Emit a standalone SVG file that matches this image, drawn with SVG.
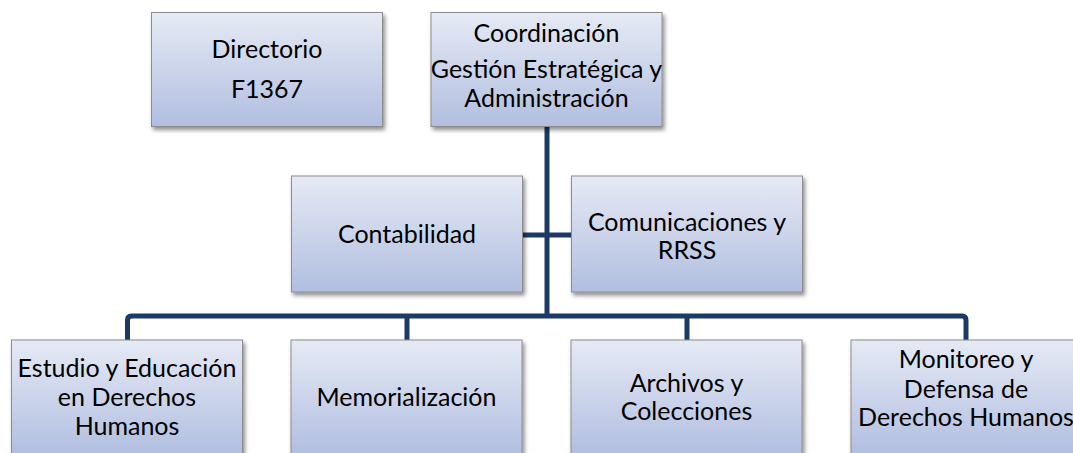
<svg xmlns="http://www.w3.org/2000/svg" width="1073" height="453" viewBox="0 0 1073 453">
<defs>
<linearGradient id="g" x1="0" y1="0" x2="0" y2="1">
<stop offset="0" stop-color="#E6EAF5"/>
<stop offset="1" stop-color="#B1BEE0"/>
</linearGradient>
<linearGradient id="gb" gradientUnits="userSpaceOnUse" x1="0" y1="340" x2="0" y2="455">
<stop offset="0" stop-color="#E6EAF5"/>
<stop offset="1" stop-color="#B1BEE0"/>
</linearGradient>
<filter id="sh" x="-10%" y="-10%" width="125%" height="130%">
<feDropShadow dx="2" dy="3" stdDeviation="2" flood-color="#000" flood-opacity="0.45"/>
</filter>
<style>
.box{fill:url(#g);stroke:#8C8C8C;stroke-width:1;filter:url(#sh)}
.boxb{fill:url(#gb);stroke:#8C8C8C;stroke-width:1;filter:url(#sh)}
.t{font-family:Lato,"Open Sans","Liberation Sans",sans-serif;font-size:25px;fill:#000;text-anchor:middle}
.c{fill:none;stroke:#1B3A66;stroke-width:5;stroke-linejoin:round}
</style>
</defs>
<g id="connectors">
<path class="c" d="M547 127 V316"/>
<path class="c" d="M523 235 H572"/>
<path class="c" d="M127.5 340 V320 Q127.5 316 131.5 316 H962 Q966 316 966 320 V340"/>
<path class="c" d="M407 316 V340"/>
<path class="c" d="M687 316 V340"/>
</g>
<g id="directorio">
<rect class="box" x="151.5" y="12.5" width="231" height="114"/>
<text class="t" x="267" y="58">Directorio</text>
<text class="t" x="267" y="98">F1367</text>
</g>
<g id="coordinacion">
<rect class="box" x="431" y="12.5" width="231" height="114"/>
<text class="t" x="546.5" y="42">Coordinación</text>
<text class="t" x="546.5" y="78">Gestión Estratégica y</text>
<text class="t" x="546.5" y="107">Administración</text>
</g>
<g id="contabilidad">
<rect class="box" x="291.5" y="176" width="231" height="116"/>
<text class="t" x="407" y="243">Contabilidad</text>
</g>
<g id="comunicaciones">
<rect class="box" x="571.5" y="176" width="231" height="116"/>
<text class="t" x="687" y="231">Comunicaciones y</text>
<text class="t" x="687" y="259">RRSS</text>
</g>
<g id="estudio">
<rect class="boxb" x="11.5" y="340" width="231" height="130"/>
<text class="t" x="127" y="377">Estudio y Educación</text>
<text class="t" x="127" y="406">en Derechos</text>
<text class="t" x="127" y="435">Humanos</text>
</g>
<g id="memorializacion">
<rect class="boxb" x="291" y="340" width="231" height="130"/>
<text class="t" x="406.5" y="406">Memorialización</text>
</g>
<g id="archivos">
<rect class="boxb" x="571" y="340" width="231" height="130"/>
<text class="t" x="686.5" y="392">Archivos y</text>
<text class="t" x="686.5" y="420">Colecciones</text>
</g>
<g id="monitoreo">
<rect class="boxb" x="851" y="340" width="231" height="130"/>
<text class="t" x="966" y="368">Monitoreo y</text>
<text class="t" x="966" y="398">Defensa de</text>
<text class="t" x="966" y="426">Derechos Humanos</text>
</g>
</svg>
